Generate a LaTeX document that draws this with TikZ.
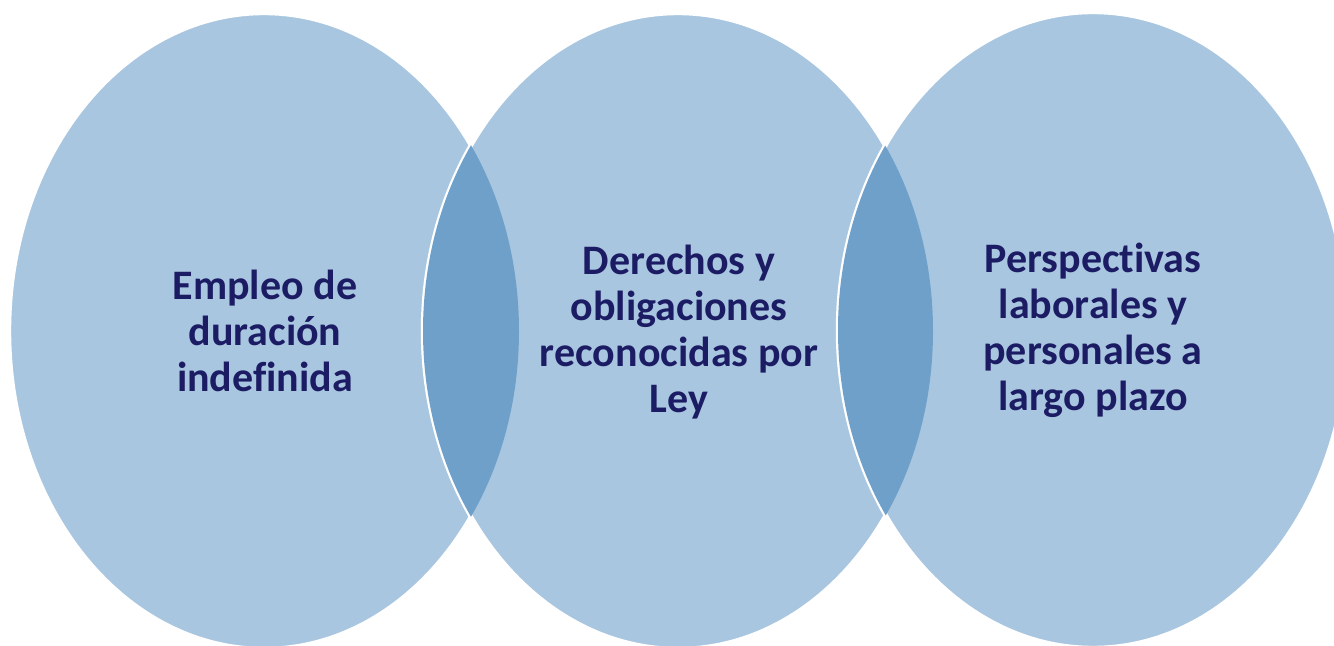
\documentclass[tikz,border=0pt]{standalone}
\usepackage{fontspec}
\setmainfont[Ligatures=NoCommon]{Carlito}
\definecolor{circfill}{HTML}{A9C6E0}
\definecolor{lensfill}{HTML}{6FA0CA}
\definecolor{txtcol}{HTML}{1C1C64}
\begin{document}
\begin{tikzpicture}[x=0.5pt,y=-0.5pt,
  vennshape/.style={fill=circfill, draw=white, line width=2.2pt},
  lensshape/.style={fill=lensfill},
  vennlabel/.style={text=txtcol, align=center, font=\bfseries\fontsize{21}{23}\selectfont, inner sep=0pt}]
\useasboundingbox (0,0) rectangle (1334,646);
\clip (0,0) rectangle (1334,646);
\coordinate (cL) at (264,331);
\coordinate (cM) at (678,331);
\coordinate (cR) at (1093,330);
\path[vennshape] (cL) ellipse [x radius=127.5pt, y radius=159pt];
\path[vennshape] (cM) ellipse [x radius=127.5pt, y radius=159pt];
\path[vennshape] (cR) ellipse [x radius=127.5pt, y radius=159pt];
\begin{scope}
  \clip (cL) ellipse [x radius=127.5pt, y radius=159pt];
  \path[lensshape] (cM) ellipse [x radius=127.5pt, y radius=159pt];
\end{scope}
\begin{scope}
  \clip (cM) ellipse [x radius=127.5pt, y radius=159pt];
  \path[lensshape] (cR) ellipse [x radius=127.5pt, y radius=159pt];
\end{scope}
\node[vennlabel] (tL) at (265,331) {Empleo de\\duración\\indefinida};
\node[vennlabel] (tM) at (679,332) {Derechos y\\obligaciones\\reconocidas por\\Ley};
\node[vennlabel] (tR) at (1093,330) {Perspectivas\\laborales y\\personales a\\largo plazo};
\end{tikzpicture}
\end{document}
